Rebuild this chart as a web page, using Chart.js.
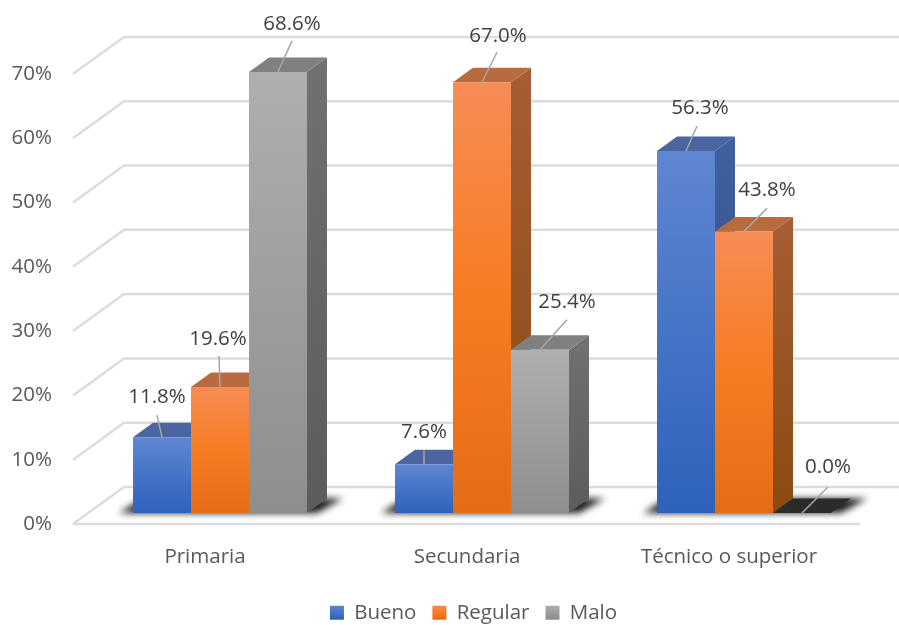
<!DOCTYPE html>
<html>
<head>
<meta charset="utf-8">
<script src="https://cdn.jsdelivr.net/npm/chart.js@4"></script>
<style>
  html, body { margin: 0; padding: 0; background: #fff; }
  #wrap { width: 899px; height: 625px; }
</style>
</head>
<body>
<div id="wrap"><canvas id="myChart" width="899" height="625"></canvas></div>
<script>
const categories = ["Primaria", "Secundaria", "Técnico o superior"];
const bueno = [11.8, 7.6, 56.3];
const regular = [19.6, 67.0, 43.8];
const malo = [68.6, 25.4, 0.0];
const tickLabels = ["0%", "10%", "20%", "30%", "40%", "50%", "60%", "70%"];

// colours per series: front gradient, side gradient, top face
const palette = [
  { name: "Bueno", values: bueno, front: ["#6086D2", "#4674C6", "#2F62BB"], side: ["#3F5F9E", "#2A4A85"], top: "#4A659F" },
  { name: "Regular", values: regular, front: ["#F68D55", "#F77B22", "#E56C17"], side: ["#A55D33", "#8C4A12"], top: "#B96B40" },
  { name: "Malo", values: malo, front: ["#AFAFAF", "#9E9E9E", "#8E8E8E"], side: ["#707070", "#5C5C5C"], top: "#808080" },
];

// label dx, dy and leader end dx, dy, measured from the middle of the bar's top edge
const labelOffsets = [
  [[-5, -40, -5, -22], [-2, -48, -1, -31], [14, -48, 14, -31]],
  [[0, -32, 0, -14], [16, -46, 15, -30], [27, -48, 27, -30]],
  [[14, -43, 11, -25], [23, -41, 23, -23], [26, -46, 26, -26]],
];

const FLOOR_DX = 51, FLOOR_DY = -37;  // depth of the floor
const BAR_DX = 20, BAR_DY = -14.5;    // depth of a bar

function vGradient(ctx, y0, y1, colors) {
  const g = ctx.createLinearGradient(0, y0, 0, y1);
  colors.forEach((c, i) => g.addColorStop(i / (colors.length - 1), c));
  return g;
}

function poly(ctx, pts, fill) {
  ctx.beginPath();
  pts.forEach((p, i) => (i ? ctx.lineTo(p[0], p[1]) : ctx.moveTo(p[0], p[1])));
  ctx.closePath();
  ctx.fillStyle = fill;
  ctx.fill();
}

const walls3d = {
  id: "walls3d",
  afterLayout(chart) {
    // the legend sits right of centre in the original
    chart.legend.left += 36;
    chart.legend.right += 36;
    chart.legend.top += 12;
    chart.legend.bottom += 12;
  },
  beforeDatasetsDraw(chart) {
    const ctx = chart.ctx;
    const ticks = chart.scales.yTicks;
    ctx.save();

    // grid: diagonal from the front edge, then along the back wall
    ctx.strokeStyle = "#DCDCDC";
    ctx.lineWidth = 2.5;
    ticks.ticks.forEach((t) => {
      const y = ticks.getPixelForValue(t.value);
      ctx.beginPath();
      ctx.moveTo(73, y);
      ctx.lineTo(73 + FLOOR_DX, y + FLOOR_DY);
      ctx.lineTo(899, y + FLOOR_DY);
      ctx.stroke();
      if (t.value === 0) {
        ctx.beginPath();
        ctx.moveTo(73, y);
        ctx.lineTo(860, y);
        ctx.stroke();
      }
    });

    // soft shadow on the floor under each group
    const first = chart.getDatasetMeta(0).data;
    const last = chart.getDatasetMeta(2).data;
    categories.forEach((c, i) => {
      const x0 = first[i].x - first[i].width / 2;
      const x1 = last[i].x + last[i].width / 2;
      const b = first[i].base;
      ctx.save();
      ctx.filter = "blur(3.5px)";
      poly(ctx, [[x0 - 14, b], [x1 + 10, b], [x1 + BAR_DX + 16, b + BAR_DY], [x0 + 10, b + BAR_DY]], "rgba(0,0,0,0.9)");
      ctx.restore();
    });

    // side and top faces, left to right so the next bar's top covers the previous side
    palette.forEach((s, d) => {
      chart.getDatasetMeta(d).data.forEach((bar, i) => {
        const l = bar.x - bar.width / 2, r = bar.x + bar.width / 2;
        const y = bar.y, b = bar.base;
        if (b - y > 0.5) {
          poly(ctx, [[r, y], [r + BAR_DX, y + BAR_DY], [r + BAR_DX, b + BAR_DY], [r, b]],
            vGradient(ctx, y, b, s.side));
        }
        poly(ctx, [[l, y], [r, y], [r + BAR_DX, y + BAR_DY], [l + BAR_DX, y + BAR_DY]],
          s.values[i] === 0 ? "#2B2B2B" : s.top);
      });
    });
    ctx.restore();
  },
  afterDatasetsDraw(chart) {
    const ctx = chart.ctx;
    ctx.save();
    ctx.textAlign = "center";
    ctx.textBaseline = "middle";
    ctx.font = '20.5px "Open Sans"';
    palette.forEach((s, d) => {
      chart.getDatasetMeta(d).data.forEach((bar, i) => {
        const [lx, ly, ex, ey] = labelOffsets[i][d];
        ctx.strokeStyle = "#A6A6A6";
        ctx.lineWidth = 1.5;
        ctx.beginPath();
        ctx.moveTo(bar.x, bar.y);
        ctx.lineTo(bar.x + ex, bar.y + ey);
        ctx.stroke();
        ctx.fillStyle = "#404040";
        ctx.fillText(s.values[i].toFixed(1) + "%", bar.x + lx, bar.y + ly);
      });
    });
    ctx.restore();
  },
};

new Chart(document.getElementById("myChart"), {
  type: "bar",
  plugins: [walls3d],
  data: {
    labels: categories,
    datasets: palette.map((s) => ({
      label: s.name,
      data: s.values,
      yAxisID: "y",
      backgroundColor(c) {
        if (c.raw === undefined) return s.front[1];
        const sc = c.chart.scales.y;
        return vGradient(c.chart.ctx, sc.getPixelForValue(c.raw), sc.getPixelForValue(0), s.front);
      },
      borderWidth: 0,
      barPercentage: 1,
      categoryPercentage: 0.664,
    })),
  },
  options: {
    responsive: false,
    animation: false,
    layout: { padding: { top: 10, right: 24, bottom: 4, left: 0 } },
    plugins: {
      tooltip: { enabled: false },
      legend: {
        position: "bottom",
        labels: {
          boxWidth: 14,
          boxHeight: 14,
          padding: 16,
          color: "#595959",
          font: { family: "Open Sans", size: 20.5 },
          generateLabels(chart) {
            return palette.map((s, i) => ({
              text: s.name,
              datasetIndex: i,
              lineWidth: 0,
              fontColor: "#595959",
              fillStyle: vGradient(chart.ctx, 605, 619, s.front),
            }));
          },
        },
      },
    },
    scales: {
      x: {
        grid: { display: false },
        border: { display: false },
        ticks: {
          color: "#595959",
          font: { family: "Open Sans", size: 20.5 },
          labelOffset: -15,
          padding: 12.5,
          maxRotation: 0,
          autoSkip: false,
        },
        afterFit(scale) { scale.height = 50.5; },
      },
      // the bars stand a little behind the front edge, so they get their own hidden scale
      y: {
        display: false,
        min: -1.71,
        max: 72.12,
      },
      yTicks: {
        position: "left",
        min: 0,
        max: 73.83,
        grid: { display: false, drawTicks: false },
        border: { display: false },
        ticks: {
          stepSize: 10,
          includeBounds: false,
          padding: 37,
          color: "#595959",
          font: { family: "Open Sans", size: 20.5 },
          callback: (v, i) => tickLabels[i],
        },
        afterFit(scale) { scale.width = 89; },
      },
    },
  },
});
</script>
</body>
</html>
